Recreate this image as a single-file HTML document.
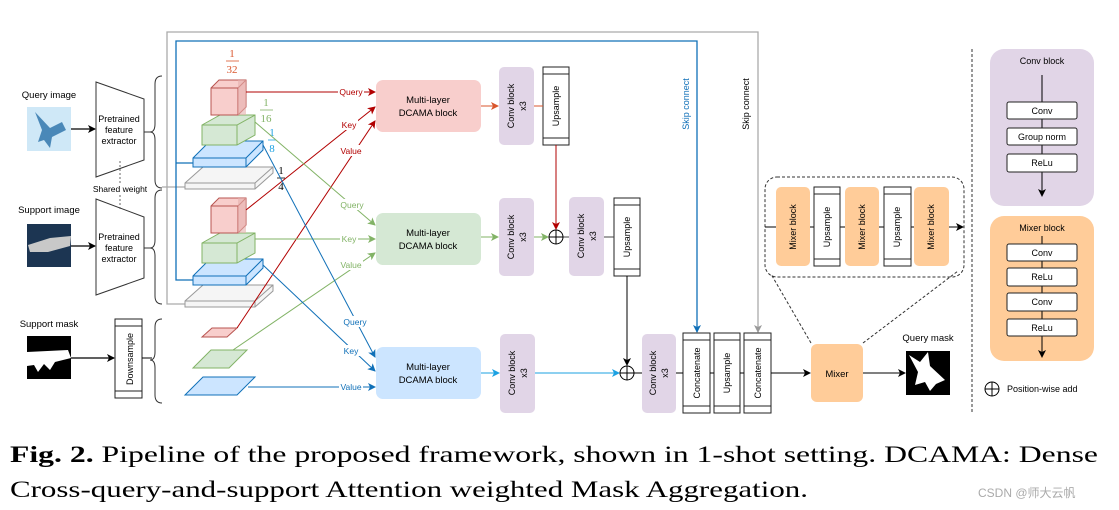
<!DOCTYPE html>
<html><head><meta charset="utf-8"><style>
html,body{margin:0;padding:0;background:#fff;}
svg{display:block;font-family:"Liberation Sans",sans-serif;}
.serif{font-family:"Liberation Serif",serif;}
</style></head><body>
<svg width="1119" height="510" viewBox="0 0 1119 510" xmlns="http://www.w3.org/2000/svg">
<defs>
<marker id="ak" markerWidth="8" markerHeight="8" refX="7" refY="4" orient="auto" markerUnits="userSpaceOnUse"><path d="M0,0 L8,4 L0,8 L2,4z" fill="#000"/></marker>
<marker id="ar" markerWidth="8" markerHeight="8" refX="7" refY="4" orient="auto" markerUnits="userSpaceOnUse"><path d="M0,0 L8,4 L0,8 L2,4z" fill="#b20000"/></marker>
<marker id="ao" markerWidth="8" markerHeight="8" refX="7" refY="4" orient="auto" markerUnits="userSpaceOnUse"><path d="M0,0 L8,4 L0,8 L2,4z" fill="#d9552c"/></marker>
<marker id="ag" markerWidth="8" markerHeight="8" refX="7" refY="4" orient="auto" markerUnits="userSpaceOnUse"><path d="M0,0 L8,4 L0,8 L2,4z" fill="#82b366"/></marker>
<marker id="ab" markerWidth="8" markerHeight="8" refX="7" refY="4" orient="auto" markerUnits="userSpaceOnUse"><path d="M0,0 L8,4 L0,8 L2,4z" fill="#1070b8"/></marker>
<marker id="alb" markerWidth="8" markerHeight="8" refX="7" refY="4" orient="auto" markerUnits="userSpaceOnUse"><path d="M0,0 L8,4 L0,8 L2,4z" fill="#1ba1e2"/></marker>
<marker id="agr" markerWidth="8" markerHeight="8" refX="7" refY="4" orient="auto" markerUnits="userSpaceOnUse"><path d="M0,0 L8,4 L0,8 L2,4z" fill="#999"/></marker>
</defs>

<path d="M185,304 L167,304 L167,32 L758,32 L758,332" fill="none" stroke="#aaa" stroke-width="1.3" marker-end="url(#agr)"/>
<line x1="162" y1="187" x2="185" y2="187" stroke="#aaa" stroke-width="1.3"/>
<path d="M193,280 L176,280 L176,41 L697,41 L697,332" fill="none" stroke="#1070b8" stroke-width="1.3" marker-end="url(#ab)"/>
<line x1="176" y1="163" x2="193" y2="163" stroke="#1070b8" stroke-width="1.3"/>

<g font-size="9.5" fill="#000" text-anchor="middle">
<text x="49" y="98">Query image</text>
<text x="49" y="213">Support image</text>
<text x="49" y="327">Support mask</text>
</g>
<rect x="27" y="107" width="44" height="44" fill="#cfe8f7"/>
<path d="M35,112 L50,128 L62,122 L66,130 L52,137 L50,148 L44,140 L38,142 L42,130 Z" fill="#4a88b8"/>
<rect x="27" y="224" width="44" height="43" fill="#1c3552"/>
<path d="M28,245 L50,238 L71,236 L70,246 L48,252 L30,252 Z" fill="#c8c8c8"/>
<rect x="27" y="336" width="44" height="43" fill="#000"/>
<path d="M27,352 L68,350 L71,358 L55,362 L50,370 L44,364 L38,372 L34,365 L27,366 Z" fill="#fff"/>
<line x1="71" y1="129" x2="95" y2="129" stroke="#000" stroke-width="1.2" marker-end="url(#ak)"/>
<line x1="71" y1="246" x2="95" y2="246" stroke="#000" stroke-width="1.2" marker-end="url(#ak)"/>
<line x1="71" y1="358" x2="114" y2="358" stroke="#000" stroke-width="1.2" marker-end="url(#ak)"/>

<path d="M96,82 L144,99 L144,160 L96,177 Z" fill="#fff" stroke="#333" stroke-width="1"/>
<path d="M96,199 L144,217 L144,278 L96,295 Z" fill="#fff" stroke="#333" stroke-width="1"/>
<g font-size="9" text-anchor="middle"><text x="119" y="122">Pretrained</text><text x="119" y="133">feature</text><text x="119" y="144">extractor</text>
<text x="119" y="240">Pretrained</text><text x="119" y="251">feature</text><text x="119" y="262">extractor</text>
<text x="120" y="192" font-size="8.5">Shared weight</text></g>
<line x1="120" y1="161" x2="120" y2="184" stroke="#666" stroke-dasharray="2,2"/>
<line x1="120" y1="195" x2="120" y2="210" stroke="#666" stroke-dasharray="2,2"/>

<rect x="115" y="319" width="27" height="79" fill="#fff" stroke="#222"/>
<line x1="115" y1="326" x2="142" y2="326" stroke="#222"/><line x1="115" y1="391" x2="142" y2="391" stroke="#222"/>
<text transform="translate(133,359) rotate(-90)" font-size="9" text-anchor="middle">Downsample</text>
<line x1="142" y1="358" x2="152" y2="358" stroke="#000"/>

<g fill="none" stroke="#333" stroke-width="1">
<path d="M162,76 Q155,76 155,84 L155,124 Q155,132 150,132 Q155,132 155,140 L155,180 Q155,188 162,188"/>
<path d="M162,190 Q155,190 155,198 L155,240 Q155,248 150,248 Q155,248 155,256 L155,296 Q155,304 162,304"/>
<path d="M162,319 Q155,319 155,327 L155,352 Q155,360 150,360 Q155,360 155,368 L155,395 Q155,403 162,403"/>
</g>
<line x1="144" y1="132" x2="150" y2="132" stroke="#333"/>
<line x1="144" y1="248" x2="150" y2="248" stroke="#333"/>

<g id="stack" stroke-width="1">
<path d="M185,183 L203,167 L273,167 L273,173 L255,189 L185,189 Z" fill="#f5f5f5" stroke="#999"/>
<path d="M185,183 L255,183 L273,167 M255,183 L255,189" fill="none" stroke="#999"/>
<path d="M193,158 L210,141 L263,141 L263,150 L246,167 L193,167 Z" fill="#cce5ff" stroke="#1070b8"/>
<path d="M193,158 L246,158 L263,141 M246,158 L246,167" fill="none" stroke="#1070b8"/>
<path d="M202,125 L220,115 L255,115 L255,135 L237,145 L202,145 Z" fill="#d5e8d4" stroke="#82b366"/>
<path d="M202,125 L237,125 L255,115 M237,125 L237,145" fill="none" stroke="#82b366"/>
<path d="M211,88 L219,80 L246,80 L246,107 L238,115 L211,115 Z" fill="#f8cecc" stroke="#b85450"/>
<path d="M211,88 L238,88 L246,80 M238,88 L238,115" fill="none" stroke="#b85450"/>
<rect x="238" y="80" width="8" height="35" fill="#e6b0ae" opacity="0.6"/>
</g>
<use href="#stack" transform="translate(0,118)"/>

<g class="serif" font-size="11" text-anchor="middle">
<text x="232" y="57" fill="#d9552c">1</text><line x1="226" y1="61" x2="239" y2="61" stroke="#d9552c" stroke-width="0.8"/><text x="232" y="73" fill="#d9552c">32</text>
<text x="266" y="106" fill="#82b366">1</text><line x1="260" y1="110" x2="273" y2="110" stroke="#82b366" stroke-width="0.8"/><text x="266" y="122" fill="#82b366">16</text>
<text x="272" y="136" fill="#1ba1e2">1</text><line x1="268" y1="140" x2="276" y2="140" stroke="#1ba1e2" stroke-width="0.8"/><text x="272" y="152" fill="#1ba1e2">8</text>
<text x="281" y="174">1</text><line x1="277" y1="178" x2="285" y2="178" stroke="#000" stroke-width="0.8"/><text x="281" y="190">4</text>
</g>

<path d="M202,337 L212,328 L237,328 L227,337 Z" fill="#f8cecc" stroke="#b85450"/>
<path d="M193,368 L211,350 L247,350 L229,368 Z" fill="#d5e8d4" stroke="#82b366"/>
<path d="M185,395 L203,377 L255,377 L237,395 Z" fill="#cce5ff" stroke="#1070b8"/>

<g fill="none" stroke-width="1">
<line x1="246" y1="92" x2="375" y2="92" stroke="#b20000" marker-end="url(#ar)"/>
<line x1="246" y1="210" x2="375" y2="107" stroke="#b20000" marker-end="url(#ar)"/>
<line x1="237" y1="328" x2="375" y2="121" stroke="#b20000" marker-end="url(#ar)"/>
<line x1="255" y1="122" x2="375" y2="225" stroke="#82b366" marker-end="url(#ag)"/>
<line x1="255" y1="239" x2="375" y2="239" stroke="#82b366" marker-end="url(#ag)"/>
<line x1="233" y1="350" x2="375" y2="253" stroke="#82b366" marker-end="url(#ag)"/>
<line x1="263" y1="145" x2="375" y2="357" stroke="#1070b8" marker-end="url(#ab)"/>
<line x1="263" y1="265" x2="375" y2="371" stroke="#1070b8" marker-end="url(#ab)"/>
<line x1="248" y1="387" x2="375" y2="387" stroke="#1070b8" marker-end="url(#ab)"/>
</g>
<g font-size="8.5" text-anchor="middle">
<rect x="338" y="86" width="26" height="11" fill="#fff"/><text x="351" y="95" fill="#b20000">Query</text>
<rect x="340" y="119" width="18" height="11" fill="#fff"/><text x="349" y="128" fill="#b20000">Key</text>
<rect x="339" y="145" width="24" height="11" fill="#fff"/><text x="351" y="154" fill="#b20000">Value</text>
<rect x="339" y="199" width="26" height="11" fill="#fff"/><text x="352" y="208" fill="#82b366">Query</text>
<rect x="340" y="233" width="18" height="11" fill="#fff"/><text x="349" y="242" fill="#82b366">Key</text>
<rect x="339" y="259" width="24" height="11" fill="#fff"/><text x="351" y="268" fill="#82b366">Value</text>
<rect x="342" y="316" width="26" height="11" fill="#fff"/><text x="355" y="325" fill="#1070b8">Query</text>
<rect x="342" y="345" width="18" height="11" fill="#fff"/><text x="351" y="354" fill="#1070b8">Key</text>
<rect x="339" y="381" width="24" height="11" fill="#fff"/><text x="351" y="390" fill="#1070b8">Value</text>
</g>

<g font-size="9.5" text-anchor="middle">
<rect x="376" y="80" width="105" height="52" rx="7" fill="#f8cecc"/>
<text x="428" y="103">Multi-layer</text><text x="428" y="116">DCAMA block</text>
<rect x="376" y="213" width="105" height="52" rx="7" fill="#d5e8d4"/>
<text x="428" y="236">Multi-layer</text><text x="428" y="249">DCAMA block</text>
<rect x="376" y="347" width="105" height="52" rx="7" fill="#cce5ff"/>
<text x="428" y="370">Multi-layer</text><text x="428" y="383">DCAMA block</text>
</g>

<g font-size="9" text-anchor="middle" fill="#000">
<rect x="499" y="67" width="35" height="78" rx="5" fill="#e1d5e7"/>
<text transform="translate(514,106) rotate(-90)">Conv block</text><text transform="translate(526,106) rotate(-90)">x3</text>
<rect x="499" y="198" width="35" height="78" rx="5" fill="#e1d5e7"/>
<text transform="translate(514,237) rotate(-90)">Conv block</text><text transform="translate(526,237) rotate(-90)">x3</text>
<rect x="569" y="197" width="35" height="79" rx="5" fill="#e1d5e7"/>
<text transform="translate(584,236) rotate(-90)">Conv block</text><text transform="translate(596,236) rotate(-90)">x3</text>
<rect x="500" y="334" width="35" height="79" rx="5" fill="#e1d5e7"/>
<text transform="translate(515,373) rotate(-90)">Conv block</text><text transform="translate(527,373) rotate(-90)">x3</text>
<rect x="642" y="334" width="34" height="79" rx="5" fill="#e1d5e7"/>
<text transform="translate(656,373) rotate(-90)">Conv block</text><text transform="translate(668,373) rotate(-90)">x3</text>
</g>

<g font-size="9" text-anchor="middle">
<rect x="543" y="67" width="26" height="78" fill="#fff" stroke="#222"/><line x1="543" y1="74" x2="569" y2="74" stroke="#222"/><line x1="543" y1="138" x2="569" y2="138" stroke="#222"/>
<text transform="translate(559,106) rotate(-90)">Upsample</text>
<rect x="614" y="198" width="26" height="78" fill="#fff" stroke="#222"/><line x1="614" y1="205" x2="640" y2="205" stroke="#222"/><line x1="614" y1="269" x2="640" y2="269" stroke="#222"/>
<text transform="translate(630,237) rotate(-90)">Upsample</text>
<rect x="683" y="333" width="27" height="80" fill="#fff" stroke="#222"/><line x1="683" y1="340" x2="710" y2="340" stroke="#222"/><line x1="683" y1="406" x2="710" y2="406" stroke="#222"/>
<text transform="translate(700,373) rotate(-90)">Concatenate</text>
<rect x="714" y="333" width="26" height="80" fill="#fff" stroke="#222"/><line x1="714" y1="340" x2="740" y2="340" stroke="#222"/><line x1="714" y1="406" x2="740" y2="406" stroke="#222"/>
<text transform="translate(730,373) rotate(-90)">Upsample</text>
<rect x="744" y="333" width="27" height="80" fill="#fff" stroke="#222"/><line x1="744" y1="340" x2="771" y2="340" stroke="#222"/><line x1="744" y1="406" x2="771" y2="406" stroke="#222"/>
<text transform="translate(761,373) rotate(-90)">Concatenate</text>
</g>
<text transform="translate(689,104) rotate(-90)" font-size="9" text-anchor="middle" fill="#1070b8">Skip connect</text>
<text transform="translate(749,104) rotate(-90)" font-size="9" text-anchor="middle">Skip connect</text>

<g fill="none" stroke-width="1">
<line x1="481" y1="106" x2="498" y2="106" stroke="#d9552c" marker-end="url(#ao)"/>
<line x1="534" y1="106" x2="543" y2="106" stroke="#d9552c"/>
<line x1="556" y1="145" x2="556" y2="229" stroke="#b20000" marker-end="url(#ar)"/>
<line x1="481" y1="237" x2="498" y2="237" stroke="#82b366" marker-end="url(#ag)"/>
<line x1="534" y1="237" x2="548" y2="237" stroke="#82b366" marker-end="url(#ag)"/>
<line x1="563" y1="237" x2="569" y2="237" stroke="#444"/>
<line x1="604" y1="237" x2="614" y2="237" stroke="#444"/>
<line x1="627" y1="276" x2="627" y2="365" stroke="#000" marker-end="url(#ak)"/>
<line x1="481" y1="373" x2="499" y2="373" stroke="#1ba1e2" marker-end="url(#alb)"/>
<line x1="535" y1="373" x2="619" y2="373" stroke="#1ba1e2" marker-end="url(#alb)"/>
<line x1="634" y1="373" x2="642" y2="373" stroke="#000"/>
<line x1="676" y1="373" x2="683" y2="373" stroke="#000"/>
<line x1="710" y1="373" x2="714" y2="373" stroke="#000"/>
<line x1="740" y1="373" x2="744" y2="373" stroke="#000"/>
<line x1="771" y1="373" x2="810" y2="373" stroke="#000" marker-end="url(#ak)"/>
<line x1="863" y1="373" x2="905" y2="373" stroke="#000" marker-end="url(#ak)"/>
</g>
<g fill="#fff" stroke="#000" stroke-width="1">
<circle cx="556" cy="237" r="7"/><path d="M549,237 H563 M556,230 V244"/>
<circle cx="627" cy="373" r="7"/><path d="M620,373 H634 M627,366 V380"/>
<circle cx="992" cy="389" r="7"/><path d="M985,389 H999 M992,382 V396"/>
</g>

<rect x="811" y="344" width="52" height="58" rx="6" fill="#ffcc99"/>
<text x="837" y="377" font-size="9.5" text-anchor="middle">Mixer</text>
<text x="928" y="341" font-size="9.5" text-anchor="middle">Query mask</text>
<rect x="906" y="351" width="44" height="44" fill="#000"/>
<path d="M909,355 L920,362 L928,352 L930,366 L945,380 L936,384 L930,391 L925,382 L915,385 L918,372 Z" fill="#fff"/>

<rect x="765" y="177" width="199" height="100" rx="12" fill="none" stroke="#333" stroke-dasharray="3,2"/>
<line x1="811" y1="343" x2="771" y2="274" stroke="#333" stroke-dasharray="3,2"/>
<line x1="863" y1="343" x2="958" y2="271" stroke="#333" stroke-dasharray="3,2"/>
<line x1="765" y1="227" x2="963" y2="227" stroke="#000" marker-end="url(#ak)"/>
<g font-size="9" text-anchor="middle">
<rect x="776" y="187" width="34" height="79" rx="5" fill="#ffcc99"/><text transform="translate(796,227) rotate(-90)">Mixer block</text>
<rect x="814" y="187" width="26" height="79" fill="#fff" stroke="#222"/><line x1="814" y1="194" x2="840" y2="194" stroke="#222"/><line x1="814" y1="259" x2="840" y2="259" stroke="#222"/>
<text transform="translate(830,227) rotate(-90)">Upsample</text>
<rect x="845" y="187" width="34" height="79" rx="5" fill="#ffcc99"/><text transform="translate(865,227) rotate(-90)">Mixer block</text>
<rect x="884" y="187" width="27" height="79" fill="#fff" stroke="#222"/><line x1="884" y1="194" x2="911" y2="194" stroke="#222"/><line x1="884" y1="259" x2="911" y2="259" stroke="#222"/>
<text transform="translate(900,227) rotate(-90)">Upsample</text>
<rect x="914" y="187" width="35" height="79" rx="5" fill="#ffcc99"/><text transform="translate(934,227) rotate(-90)">Mixer block</text>
</g>

<line x1="972" y1="49" x2="972" y2="413" stroke="#333" stroke-dasharray="3,2"/>
<rect x="990" y="49" width="104" height="157" rx="14" fill="#e1d5e7"/>
<text x="1042" y="64" font-size="9" text-anchor="middle">Conv block</text>
<line x1="1042" y1="75" x2="1042" y2="196" stroke="#000" marker-end="url(#ak)"/>
<rect x="990" y="216" width="104" height="145" rx="14" fill="#ffcc99"/>
<text x="1042" y="231" font-size="9" text-anchor="middle">Mixer block</text>
<line x1="1042" y1="236" x2="1042" y2="357" stroke="#000" marker-end="url(#ak)"/>
<g stroke="#222">
<rect x="1007" y="102" width="70" height="17" rx="2" fill="#fff"/>
<rect x="1007" y="128" width="70" height="17" rx="2" fill="#fff"/>
<rect x="1007" y="154" width="70" height="18" rx="2" fill="#fff"/>
<rect x="1007" y="244" width="70" height="17" rx="2" fill="#fff"/>
<rect x="1007" y="268" width="70" height="18" rx="2" fill="#fff"/>
<rect x="1007" y="293" width="70" height="18" rx="2" fill="#fff"/>
<rect x="1007" y="319" width="70" height="17" rx="2" fill="#fff"/>
</g>
<g font-size="9" text-anchor="middle">
<text x="1042" y="114">Conv</text><text x="1042" y="140">Group norm</text><text x="1042" y="166">ReLu</text>
<text x="1042" y="256">Conv</text><text x="1042" y="280">ReLu</text><text x="1042" y="305">Conv</text><text x="1042" y="331">ReLu</text>
</g>
<text x="1007" y="392" font-size="9">Position-wise add</text>

<text class="serif" x="10" y="462" font-size="23" textLength="1088" lengthAdjust="spacingAndGlyphs"><tspan font-weight="bold">Fig. 2.</tspan> Pipeline of the proposed framework, shown in 1-shot setting. DCAMA: Dense</text>
<text class="serif" x="10" y="497" font-size="23" textLength="798" lengthAdjust="spacingAndGlyphs">Cross-query-and-support Attention weighted Mask Aggregation.</text>
<text x="978" y="497" style="font-family:'Liberation Sans','Noto Sans CJK SC',sans-serif" font-size="12" fill="#aaa">CSDN @师大云帆</text>
</svg>
</body></html>
